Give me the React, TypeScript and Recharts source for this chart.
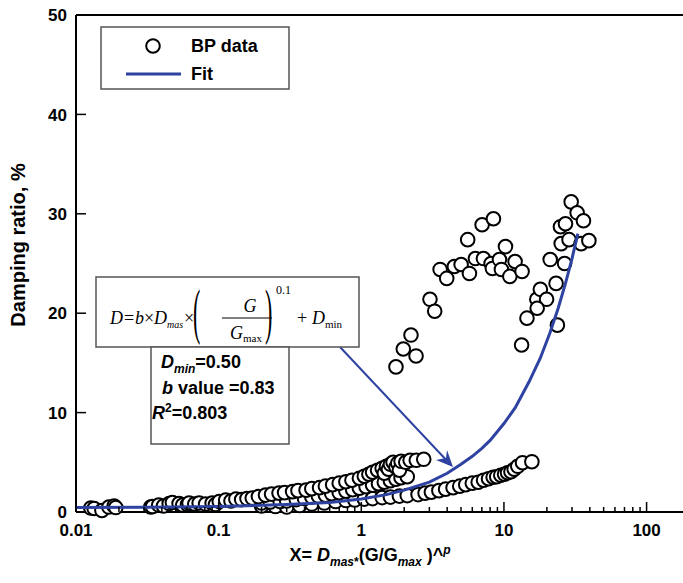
import React from "react";
import { ScatterChart, Scatter, XAxis, YAxis, ReferenceLine } from "recharts";

// [X, damping %]
const lowStrainPts: [number, number][] = [
  [0.0127, 0.4], [0.0134, 0.35], [0.0152, 0.15], [0.017, 0.5], [0.0185, 0.6], [0.019, 0.45],
  [0.0334, 0.5], [0.0344, 0.55], [0.038, 0.7], [0.041, 0.6], [0.045, 0.85], [0.0474, 0.95],
  [0.0528, 0.85], [0.056, 0.7], [0.0605, 0.75], [0.062, 0.9], [0.068, 0.8], [0.073, 0.9],
  [0.081, 0.8], [0.09, 0.9], [0.095, 0.75],
];

const upperBandPts: [number, number][] = [
  [0.101, 1.05], [0.112, 1.2], [0.122, 1.1], [0.132, 1.3], [0.145, 1.25], [0.158, 1.35],
  [0.172, 1.4], [0.19, 1.55], [0.213, 1.7], [0.235, 1.8], [0.265, 1.9], [0.29, 1.95],
  [0.33, 2.05], [0.36, 2.15], [0.41, 2.2], [0.45, 2.35], [0.51, 2.45], [0.56, 2.6],
  [0.63, 2.75], [0.7, 2.9], [0.78, 3.05], [0.86, 3.2], [0.97, 3.4], [1.05, 3.6],
  [1.13, 3.8], [1.2, 4.0], [1.3, 4.2], [1.4, 4.4], [1.45, 3.9], [1.5, 4.6], [1.55, 4.3],
  [1.6, 4.8], [1.67, 5.0], [1.75, 4.5], [1.8, 4.9], [1.85, 4.2], [1.9, 5.1], [2.05, 5.0],
  [2.2, 5.2], [2.43, 5.2], [2.74, 5.3],
];

const middleBandPts: [number, number][] = [
  [0.2, 0.9], [0.23, 1.0], [0.27, 1.05], [0.3, 1.1], [0.35, 1.25], [0.4, 1.35], [0.45, 1.5],
  [0.5, 1.6], [0.56, 1.7], [0.62, 1.85], [0.7, 1.95], [0.78, 2.1], [0.87, 2.25], [0.97, 2.4],
  [1.08, 2.55], [1.2, 2.7], [1.32, 2.85], [1.45, 3.0], [1.6, 3.15], [1.75, 3.3], [1.9, 3.45],
  [2.1, 3.55],
];

const lowerBandPts: [number, number][] = [
  [0.2, 0.6], [0.25, 0.55], [0.3, 0.5], [0.37, 0.65], [0.45, 0.8], [0.55, 0.9], [0.66, 1.05],
  [0.78, 1.15], [0.9, 1.2], [1.05, 1.3], [1.2, 1.35], [1.4, 1.45], [1.6, 1.5], [1.85, 1.6],
  [2.1, 1.65], [2.5, 1.75], [2.8, 1.9], [3.1, 2.0], [3.5, 2.15], [3.9, 2.3], [4.4, 2.45],
  [4.9, 2.6], [5.4, 2.75], [6.0, 2.9], [6.6, 3.0], [7.2, 3.2], [7.8, 3.35], [8.4, 3.5],
  [8.9, 3.55], [9.5, 3.7], [10.1, 3.8], [10.6, 3.95], [11.2, 4.05], [11.8, 4.3], [12.5, 4.6],
  [13.5, 4.96], [15.7, 5.06],
];

const highStrainPts: [number, number][] = [
  [1.75, 14.6], [1.97, 16.4], [2.23, 17.8], [2.42, 15.7], [3.03, 21.4], [3.27, 20.2],
  [3.57, 24.4], [3.97, 23.5], [4.49, 24.7], [5.01, 24.9], [5.73, 24.0], [5.57, 27.4],
  [6.31, 25.5], [7.03, 28.9], [8.44, 29.5], [7.18, 25.5], [8.13, 25.0], [8.3, 24.5],
  [9.3, 25.4], [10.25, 26.7], [9.6, 24.4], [11.0, 23.7], [11.97, 25.2], [13.4, 24.2],
  [13.3, 16.8], [14.5, 19.5], [17.0, 21.4], [18.0, 22.4], [19.9, 21.4], [17.1, 20.5],
  [21.1, 25.4], [23.2, 23.0], [23.7, 18.8], [26.6, 25.0], [24.9, 28.7], [27.0, 29.0],
  [25.2, 27.0], [28.6, 27.4], [29.6, 31.2], [32.6, 30.1], [36.1, 29.3], [34.8, 27.0],
  [39.4, 27.3],
];

// fit curve, sampled from the figure
const fitX = [0.01, 0.03, 0.1, 0.3, 0.6, 1, 1.5, 2, 3, 4, 5, 6, 7, 8, 10, 12, 15, 18, 21, 24, 27, 30, 33];
const fitD = [0.45, 0.48, 0.55, 0.75, 0.95, 1.3, 1.75, 2.2, 3.0, 3.9, 4.8, 5.6, 6.4, 7.2, 8.9, 10.5, 13.1, 15.5, 18.0, 20.5, 23.0, 25.5, 28.0];

const majorTicks = [0.01, 0.1, 1, 10, 100];
const minorTicks = [
  0.02, 0.03, 0.04, 0.05, 0.06, 0.07, 0.08, 0.09,
  0.2, 0.3, 0.4, 0.5, 0.6, 0.7, 0.8, 0.9,
  2, 3, 4, 5, 6, 7, 8, 9,
  20, 30, 40, 50, 60, 70, 80, 90,
];
const yTicks = [0, 10, 20, 30, 40, 50];

const BLUE = "#2E43A1";
const SANS = "'Liberation Sans', Arial, sans-serif";
const SERIF = "'Liberation Serif', 'Times New Roman', serif";

const toPts = (arr: [number, number][]) => arr.map(([x, y]) => ({ x, y }));
const dataPts = [
  ...toPts(lowStrainPts),
  ...toPts(lowerBandPts),
  ...toPts(middleBandPts),
  ...toPts(upperBandPts),
  ...toPts(highStrainPts),
];
const fitPts = fitX.map((x, i) => ({ x, y: fitD[i] }));
const allXTicks = [...majorTicks, ...minorTicks].sort((a, b) => a - b);

const OpenCircle = (props: any) => (
  <circle cx={props.cx} cy={props.cy} r={6.8} fill="#fff" stroke="#000" strokeWidth={2} />
);

const XTick = (props: any) => {
  const { x, y, payload } = props;
  const major = majorTicks.includes(payload.value);
  const axisY = y - 12;
  return (
    <g>
      <line x1={x} x2={x} y1={axisY} y2={axisY - (major ? 10 : 5)} stroke="#000" strokeWidth={1.5} />
      {major && (
        <text x={x} y={y} dy="0.72em" textAnchor="middle" fontFamily={SANS} fontWeight="bold" fontSize={17} fill="#000">
          {String(payload.value)}
        </text>
      )}
    </g>
  );
};

const YTick = (props: any) => {
  const { x, y, payload } = props;
  return (
    <g>
      <line x1={x + 9} x2={x + 19} y1={y} y2={y} stroke="#000" strokeWidth={1.5} />
      <text x={x} y={y} dy="0.36em" textAnchor="end" fontFamily={SANS} fontWeight="bold" fontSize={17} fill="#000">
        {payload.value}
      </text>
    </g>
  );
};

function Annotations() {
  return (
    <svg width={683} height={583} style={{ position: "absolute", left: 0, top: 0, pointerEvents: "none" }}>
      {/* axis titles */}
      <text transform="translate(25,245) rotate(-90)" textAnchor="middle" fontFamily={SANS} fontWeight="bold" fontSize={20}>
        Damping ratio, %
      </text>
      <text x={370} y={561} textAnchor="middle" fontFamily={SANS} fontWeight="bold" fontSize={18}>
        <tspan>X= </tspan>
        <tspan fontStyle="italic">D</tspan>
        <tspan fontSize={12} fontStyle="italic" dy={5}>mas</tspan>
        <tspan fontSize={12}>*</tspan>
        <tspan dy={-5}>(G/G</tspan>
        <tspan fontSize={12} fontStyle="italic" dy={5}>max</tspan>
        <tspan dy={-5}> )^</tspan>
        <tspan fontSize={12} fontStyle="italic" dy={-7}>p</tspan>
      </text>

      {/* legend */}
      <rect x={101} y={27} width={188} height={62} fill="#fff" stroke="#555" strokeWidth={1.5} />
      <circle cx={153} cy={46} r={6.8} fill="#fff" stroke="#000" strokeWidth={2} />
      <text x={191} y={52} fontFamily={SANS} fontWeight="bold" fontSize={18}>BP data</text>
      <line x1={126} x2={181} y1={74} y2={74} stroke={BLUE} strokeWidth={3} />
      <text x={191} y={80} fontFamily={SANS} fontWeight="bold" fontSize={18}>Fit</text>

      {/* arrow */}
      <line x1={340} y1={347} x2={450} y2={464} stroke={BLUE} strokeWidth={2} />
      <polygon points="453,467 436,460 446,458 447,450" fill={BLUE} />

      {/* formula box */}
      <rect x={96} y={277} width={263} height={70} fill="#fff" stroke="#555" strokeWidth={1.5} />
      <g fontFamily={SERIF} fontSize={18} fill="#000">
        <text x={110} y={324} fontStyle="italic">D</text>
        <text x={124} y={324}>=</text>
        <text x={135} y={324} fontStyle="italic">b</text>
        <text x={144} y={324}>×</text>
        <text x={154} y={324} fontStyle="italic">D</text>
        <text x={167} y={328} fontSize={10} fontStyle="italic">mas</text>
        <text x={184} y={324}>×</text>
        <text transform="translate(193,332) scale(1,2.8)" fontSize={22}>(</text>
        <text x={250} y={312} textAnchor="middle" fontStyle="italic">G</text>
        <line x1={222} x2={272} y1={318} y2={318} stroke="#000" strokeWidth={1} />
        <text x={230} y={339} fontStyle="italic">G</text>
        <text x={243} y={342} fontSize={11}>max</text>
        <text transform="translate(265,332) scale(1,2.8)" fontSize={22}>)</text>
        <text x={276} y={294} fontSize={12}>0.1</text>
        <text x={297} y={324}>+</text>
        <text x={312} y={324} fontStyle="italic">D</text>
        <text x={325} y={328} fontSize={11}>min</text>
      </g>

      {/* parameter box */}
      <rect x={151} y={347} width={138} height={97} fill="#fff" stroke="#555" strokeWidth={1.5} />
      <g fontFamily={SANS} fontWeight="bold" fontSize={18} fill="#000">
        <text x={161} y={368}>
          <tspan fontStyle="italic">D</tspan>
          <tspan fontSize={12} fontStyle="italic" dy={5}>min</tspan>
          <tspan dy={-5}>=0.50</tspan>
        </text>
        <text x={162} y={394}>
          <tspan fontStyle="italic">b</tspan>
          <tspan> value =0.83</tspan>
        </text>
        <text x={152} y={419}>
          <tspan fontStyle="italic">R</tspan>
          <tspan fontSize={12} dy={-7}>2</tspan>
          <tspan dy={7}>=0.803</tspan>
        </text>
      </g>
    </svg>
  );
}

export default function App() {
  return (
    <div style={{ position: "absolute", left: 0, top: 0, width: 683, height: 583, background: "#fff" }}>
      <ScatterChart width={683} height={583} margin={{ top: 15, right: 0, bottom: 0, left: 0 }}>
        <XAxis
          type="number"
          dataKey="x"
          scale="log"
          domain={[0.01, 180]}
          allowDataOverflow
          ticks={allXTicks}
          interval={0}
          height={71}
          tickSize={0}
          tickMargin={12}
          tickLine={false}
          tick={<XTick />}
          axisLine={{ stroke: "#000", strokeWidth: 2 }}
        />
        <YAxis
          type="number"
          dataKey="y"
          domain={[0, 50]}
          ticks={yTicks}
          interval={0}
          width={76}
          tickSize={0}
          tickMargin={9}
          tickLine={false}
          tick={<YTick />}
          axisLine={{ stroke: "#000", strokeWidth: 2 }}
        />
        <ReferenceLine y={50} stroke="#000" strokeWidth={2} />
        <Scatter data={dataPts} shape={<OpenCircle />} isAnimationActive={false} />
        <Scatter
          data={fitPts}
          line={{ stroke: BLUE, strokeWidth: 3 }}
          lineType="joint"
          shape={() => <g />}
          isAnimationActive={false}
        />
      </ScatterChart>
      <Annotations />
    </div>
  );
}
